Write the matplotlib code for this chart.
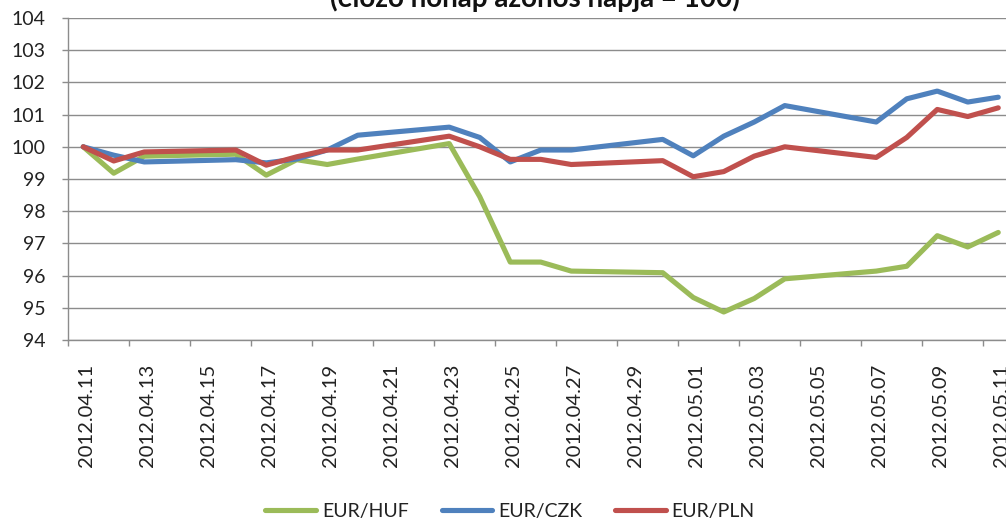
import matplotlib
matplotlib.use("Agg")
import matplotlib.pyplot as plt
import matplotlib.transforms as mtransforms
import pandas as pd

plt.rcParams["font.family"] = ["Lato", "DejaVu Sans"]

# trading days shown on the chart
dates = [
    "2012.04.11", "2012.04.12", "2012.04.13", "2012.04.16", "2012.04.17",
    "2012.04.18", "2012.04.19", "2012.04.20", "2012.04.23", "2012.04.24",
    "2012.04.25", "2012.04.26", "2012.04.27", "2012.04.30", "2012.05.01",
    "2012.05.02", "2012.05.03", "2012.05.04", "2012.05.07", "2012.05.08",
    "2012.05.09", "2012.05.10", "2012.05.11",
]
eur_huf = [100.0, 99.18, 99.71, 99.77, 99.12, 99.6, 99.45, 99.62, 100.1, 98.45,
           96.42, 96.42, 96.14, 96.09, 95.32, 94.87, 95.29, 95.9, 96.14, 96.29,
           97.24, 96.89, 97.34]
eur_czk = [100.0, 99.74, 99.53, 99.6, 99.5, 99.62, 99.9, 100.36, 100.61, 100.29,
           99.53, 99.9, 99.9, 100.23, 99.72, 100.33, 100.77, 101.28, 100.77, 101.49,
           101.73, 101.39, 101.54]
eur_pln = [100.0, 99.56, 99.84, 99.9, 99.43, 99.69, 99.9, 99.9, 100.33, 100.0,
           99.61, 99.61, 99.45, 99.57, 99.07, 99.23, 99.71, 100.0, 99.67, 100.29,
           101.16, 100.94, 101.21]

series = [
    ("EUR/HUF", eur_huf, "#9BBB59"),
    ("EUR/CZK", eur_czk, "#4F81BD"),
    ("EUR/PLN", eur_pln, "#C0504D"),
]
title = "(előző hónap azonos napja = 100)"

dt = pd.to_datetime(dates, format="%Y.%m.%d")
start = dt[0]
x = (dt - start).days
all_days = pd.date_range(start, dt[-1], freq="D")
n_days = len(all_days)

W, H = 1006, 521
fig = plt.figure(figsize=(W / 100, H / 100), dpi=100)
left, right, top, bottom = 68, 68 + n_days * 30.5, 18, 340
ax = fig.add_axes([left / W, 1 - bottom / H, (right - left) / W, (bottom - top) / H])

for name, vals, color in series:
    ax.plot(x, vals, color=color, lw=3.7, label=name, solid_joinstyle="round",
            solid_capstyle="round")

grid_c = "#8c8c8c"
ax.set_xlim(-0.5, n_days - 0.5)
ax.set_ylim(94, 104)
ax.set_yticks(range(94, 105))
ax.yaxis.grid(True, color=grid_c, lw=1.0)
ax.set_axisbelow(True)
for s in ["top", "right"]:
    ax.spines[s].set_visible(False)
ax.spines["left"].set_color(grid_c)
ax.spines["bottom"].set_color(grid_c)
ax.spines["left"].set_linewidth(1.0)
ax.spines["bottom"].set_linewidth(1.0)

ax.set_xticks([i - 0.5 for i in range(0, n_days + 1, 2)])
ax.set_xticklabels([])
ax.set_xticks(list(range(0, n_days, 2)), minor=True)
ax.set_xticklabels([d.strftime("%Y.%m.%d") for d in all_days[::2]], minor=True,
                   rotation=90, fontsize=14.5, color="#222222")
ax.tick_params(axis="x", which="major", length=4.3, color=grid_c, width=1.0)
ax.tick_params(axis="x", which="minor", length=0, pad=17)
ax.tick_params(axis="y", length=4.3, color=grid_c, width=1.0, pad=12,
               labelsize=14, labelcolor="#222222")

# nudge the date labels a little to the right, as in the original
shift = mtransforms.ScaledTranslation(3 / 100, 0, fig.dpi_scale_trans)
for lab in ax.get_xticklabels(minor=True):
    lab.set_transform(lab.get_transform() + shift)

fig.text(535 / W, 1 - 7 / H, title, ha="center", va="baseline",
         fontsize=20, fontweight="bold", color="#111111")

fig.legend(loc="center", bbox_to_anchor=(510 / W, 10 / H), ncol=3, frameon=False,
           fontsize=14, handlelength=2.6, handletextpad=0.3, columnspacing=1.7,
           labelcolor="#222222")

fig.savefig("out.png", dpi=100)
